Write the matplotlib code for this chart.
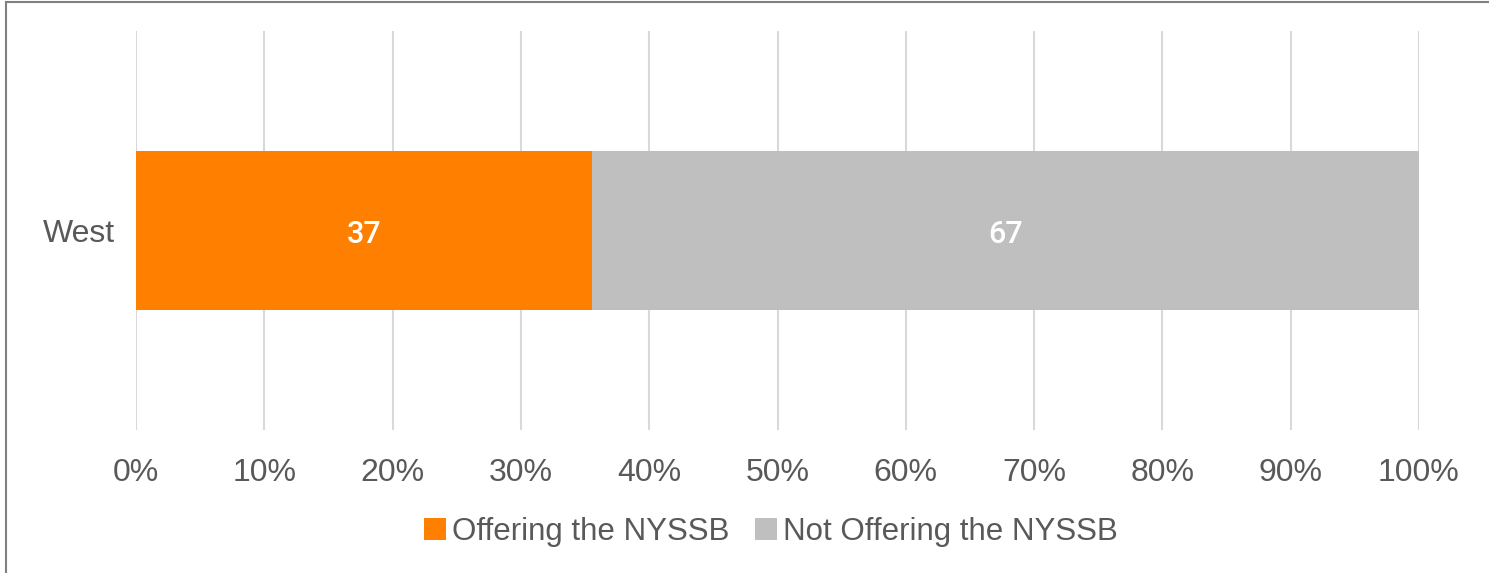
import matplotlib.pyplot as plt
from matplotlib.patches import Rectangle
from matplotlib.ticker import PercentFormatter

categories = ["West"]
offering = [37]
not_offering = [67]
series_names = ["Offering the NYSSB", "Not Offering the NYSSB"]
colors = ["#FF7F00", "#BFBFBF"]

plt.rcParams['font.family'] = ['Liberation Sans', 'DejaVu Sans']

fig = plt.figure(figsize=(14.89, 5.73), dpi=100)
ax = fig.add_axes([136/1489, 1 - 430/573, (1419-136)/1489, (430-31)/573])

total = [a + b for a, b in zip(offering, not_offering)]
share1 = [a / t for a, t in zip(offering, total)]
share2 = [b / t for b, t in zip(not_offering, total)]

b1 = ax.barh(categories, share1, height=0.4, color=colors[0], label=series_names[0])
b2 = ax.barh(categories, share2, left=share1, height=0.4, color=colors[1], label=series_names[1])

for bars, vals in [(b1, offering), (b2, not_offering)]:
    for rect, v in zip(bars, vals):
        ax.text(rect.get_x() + rect.get_width() / 2, rect.get_y() + rect.get_height() / 2 - 0.01,
                str(v), ha='center', va='center', color='white', fontsize=22,
                fontweight='medium', family=['Roboto', 'DejaVu Sans'])

ax.set_xlim(0, 1)
ax.set_ylim(-0.5, 0.5)
ax.set_xticks([i / 10 for i in range(11)])
ax.xaxis.set_major_formatter(PercentFormatter(1, decimals=0))
ax.grid(axis='x', color='#D9D9D9', linewidth=1.5)
ax.set_axisbelow(True)
for s in ax.spines.values():
    s.set_visible(False)
ax.tick_params(axis='both', length=0, labelsize=23, labelcolor='#595959')
ax.tick_params(axis='x', pad=20)
ax.tick_params(axis='y', pad=15)

leg = fig.legend(loc='center', bbox_to_anchor=(771/1489, 1 - 532/573), ncol=2, frameon=False,
                 fontsize=22.5, labelcolor='#595959', handlelength=0.7, handleheight=0.7,
                 handletextpad=0.2, columnspacing=0.8)

# outer frame (left and top edges visible)
fig.add_artist(Rectangle((6/1489, -0.01), 1.1, 1 - 2/573 + 0.01, transform=fig.transFigure,
                         fill=False, edgecolor='#808080', linewidth=1.5))

fig.savefig("out.png", dpi=100)
